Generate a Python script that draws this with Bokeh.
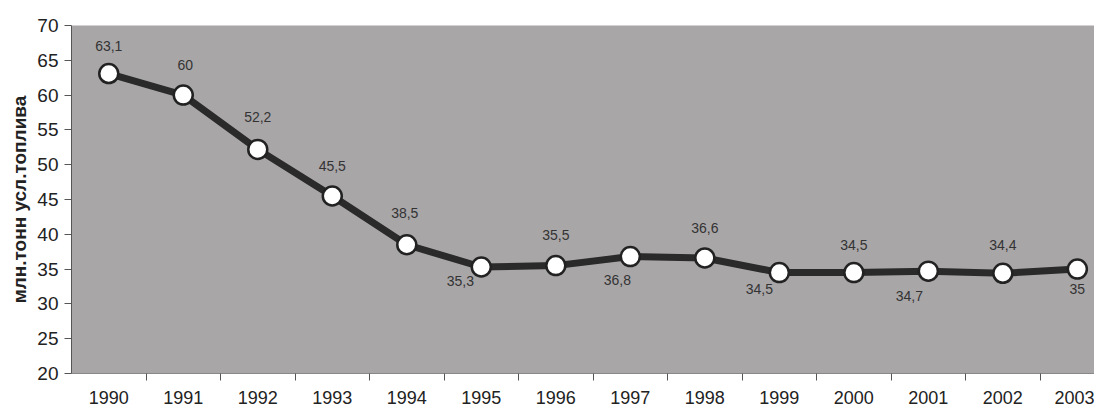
from bokeh.plotting import figure
from bokeh.models import ColumnDataSource, FixedTicker, LabelSet
from bokeh.core.properties import value
from bokeh.embed import file_html
from bokeh.resources import INLINE

years = [1990, 1991, 1992, 1993, 1994, 1995, 1996, 1997, 1998, 1999, 2000, 2001, 2002, 2003]
values = [63.1, 60, 52.2, 45.5, 38.5, 35.3, 35.5, 36.8, 36.6, 34.5, 34.5, 34.7, 34.4, 35]
value_labels = ["63,1", "60", "52,2", "45,5", "38,5", "35,3", "35,5", "36,8", "36,6", "34,5", "34,5", "34,7", "34,4", "35"]
y_ticks = [20, 25, 30, 35, 40, 45, 50, 55, 60, 65, 70]
y_title = "млн.тонн усл.топлива"

# label placement (style): above / below the point
label_dx = [0, 2, 0, 0, -2, -21, 0, -13, 0, -20, 0, -19, 0, 0]
label_dy = [28, 30, 32, 30, 32, -14, 31, -23, 30, -16, 28, -25, 28, -20]

FONT = "Liberation Sans"

p = figure(width=1094, height=408, output_backend="svg", toolbar_location=None,
           x_range=(1989.5, 2003.23), y_range=(20, 70),
           min_border_left=71, min_border_right=0, min_border_top=25, min_border_bottom=35)
p.background_fill_color = "#a9a6a8"
p.border_fill_color = "white"
p.outline_line_color = None
p.grid.visible = False

src = ColumnDataSource(dict(x=years, y=values, t=value_labels, dx=label_dx, dy=label_dy))
p.line("x", "y", source=src, line_color="#2a2a2a", line_width=7, line_join="round")
p.scatter("x", "y", source=src, size=19, fill_color="white", line_color="#222222", line_width=2.5)

labels = LabelSet(x="x", y="y", text="t", source=src, x_offset="dx", y_offset="dy",
                  text_align="center", text_baseline="middle", text_font=value(FONT),
                  text_font_size="14px", text_color="#333333")
p.add_layout(labels)

# x axis: labels at category centers, ticks at category boundaries
p.xaxis.ticker = FixedTicker(ticks=years, minor_ticks=[y + 0.5 for y in years])
p.xaxis.major_tick_out = 0
p.xaxis.major_tick_in = 0
p.xaxis.minor_tick_out = 7
p.xaxis.minor_tick_in = 0
p.xaxis.minor_tick_line_color = "#555555"
p.xaxis.axis_line_color = "#888888"
p.xaxis.major_label_standoff = 10
p.xaxis.major_label_text_font = FONT
p.xaxis.major_label_text_font_size = "18px"
p.xaxis.major_label_text_color = "#222222"

p.yaxis.ticker = FixedTicker(ticks=y_ticks)
p.yaxis.major_tick_out = 7
p.yaxis.major_tick_in = 0
p.yaxis.minor_tick_line_color = None
p.yaxis.major_tick_line_color = "#555555"
p.yaxis.axis_line_color = "#555555"
p.yaxis.major_label_standoff = 6
p.yaxis.major_label_text_font = FONT
p.yaxis.major_label_text_font_size = "19px"
p.yaxis.major_label_text_color = "#222222"
p.yaxis.axis_label = y_title
p.yaxis.axis_label_text_font = FONT
p.yaxis.axis_label_text_font_style = "bold"
p.yaxis.axis_label_text_font_size = "19px"
p.yaxis.axis_label_text_color = "#222222"
p.yaxis.axis_label_standoff = 4

open("out.html", "w").write(file_html(p, INLINE))
